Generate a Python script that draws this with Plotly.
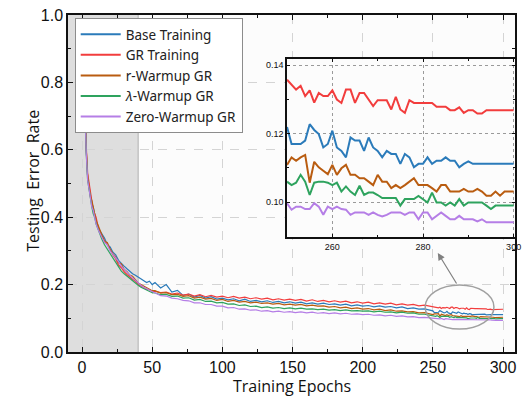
import plotly.graph_objects as go

# ---------------- data ----------------
epochs = list(range(1, 11)) + list(range(12, 51, 2)) + list(range(52, 249, 4)) + list(range(250, 301))

base_training = [
    0.90, 0.70, 0.60, 0.52, 0.49, 0.46, 0.44, 0.43, 0.41, 0.39,
    0.365, 0.352, 0.338, 0.318, 0.312, 0.296, 0.288, 0.272, 0.262, 0.255,
    0.247, 0.240, 0.232, 0.228, 0.222, 0.218, 0.212, 0.206, 0.210, 0.200,
    0.206, 0.190, 0.200, 0.178, 0.183, 0.168, 0.172, 0.163, 0.168, 0.160,
    0.164, 0.157, 0.160, 0.155, 0.158, 0.152, 0.157, 0.150, 0.153, 0.149,
    0.152, 0.147, 0.150, 0.146, 0.149, 0.145, 0.148, 0.143, 0.146, 0.142,
    0.145, 0.141, 0.143, 0.139, 0.142, 0.137, 0.140, 0.136, 0.138, 0.134,
    0.137, 0.133, 0.135, 0.131, 0.134, 0.129, 0.131, 0.127, 0.128, 0.124,
    0.1220, 0.1170, 0.1170, 0.1170, 0.1180, 0.1228, 0.1211, 0.1199, 0.1160, 0.1170,
    0.1209, 0.1160, 0.1150, 0.1131, 0.1189, 0.1180, 0.1180, 0.1150, 0.1189, 0.1160,
    0.1150, 0.1131, 0.1150, 0.1141, 0.1141, 0.1112, 0.1141, 0.1131, 0.1102, 0.1112,
    0.1112, 0.1131, 0.1112, 0.1121, 0.1121, 0.1131, 0.1121, 0.1121, 0.1102, 0.1112,
    0.1119, 0.1112, 0.1112, 0.1112, 0.1112, 0.1112, 0.1112, 0.1112, 0.1112, 0.1112,
    0.1112,
]

gr_training = [
    0.92, 0.72, 0.61, 0.53, 0.50, 0.47, 0.45, 0.42, 0.41, 0.40,
    0.362, 0.345, 0.330, 0.320, 0.302, 0.288, 0.276, 0.258, 0.250, 0.238,
    0.230, 0.222, 0.216, 0.210, 0.200, 0.196, 0.192, 0.186, 0.185, 0.180,
    0.180, 0.176, 0.178, 0.172, 0.175, 0.169, 0.172, 0.166, 0.170, 0.164,
    0.168, 0.163, 0.166, 0.161, 0.165, 0.160, 0.163, 0.158, 0.161, 0.157,
    0.160, 0.155, 0.158, 0.154, 0.157, 0.153, 0.156, 0.151, 0.155, 0.150,
    0.153, 0.149, 0.152, 0.148, 0.151, 0.146, 0.149, 0.145, 0.148, 0.143,
    0.146, 0.142, 0.145, 0.140, 0.143, 0.139, 0.141, 0.137, 0.139, 0.136,
    0.1358, 0.1344, 0.1329, 0.1340, 0.1310, 0.1327, 0.1291, 0.1319, 0.1310, 0.1310,
    0.1327, 0.1300, 0.1290, 0.1329, 0.1329, 0.1290, 0.1319, 0.1319, 0.1300, 0.1281,
    0.1298, 0.1298, 0.1298, 0.1271, 0.1308, 0.1271, 0.1261, 0.1298, 0.1290, 0.1290,
    0.1290, 0.1290, 0.1290, 0.1279, 0.1279, 0.1279, 0.1269, 0.1269, 0.1277, 0.1261,
    0.1269, 0.1269, 0.1259, 0.1259, 0.1269, 0.1269, 0.1269, 0.1269, 0.1269, 0.1269,
    0.1269,
]

r_warmup_gr = [
    0.91, 0.71, 0.60, 0.52, 0.48, 0.46, 0.45, 0.43, 0.42, 0.39,
    0.370, 0.350, 0.328, 0.325, 0.305, 0.292, 0.282, 0.265, 0.262, 0.245,
    0.238, 0.228, 0.225, 0.215, 0.205, 0.200, 0.196, 0.190, 0.186, 0.182,
    0.182, 0.175, 0.176, 0.170, 0.171, 0.165, 0.167, 0.160, 0.163, 0.157,
    0.159, 0.153, 0.156, 0.150, 0.153, 0.148, 0.150, 0.146, 0.148, 0.144,
    0.146, 0.142, 0.144, 0.140, 0.142, 0.139, 0.141, 0.137, 0.139, 0.136,
    0.137, 0.133, 0.135, 0.131, 0.133, 0.129, 0.131, 0.127, 0.129, 0.125,
    0.127, 0.123, 0.125, 0.121, 0.122, 0.119, 0.120, 0.116, 0.117, 0.113,
    0.1109, 0.1131, 0.1121, 0.1131, 0.1138, 0.1057, 0.1118, 0.1102, 0.1092, 0.1082,
    0.1109, 0.1080, 0.1099, 0.1109, 0.1080, 0.1080, 0.1070, 0.1070, 0.1060, 0.1050,
    0.1080, 0.1060, 0.1060, 0.1041, 0.1050, 0.1041, 0.1050, 0.1060, 0.1070, 0.1050,
    0.1050, 0.1050, 0.1041, 0.1031, 0.1050, 0.1050, 0.1031, 0.1031, 0.1031, 0.1039,
    0.1031, 0.1031, 0.1039, 0.1031, 0.1019, 0.1019, 0.1031, 0.1019, 0.1031, 0.1031,
    0.1031,
]

lambda_warmup_gr = [
    0.90, 0.69, 0.59, 0.51, 0.48, 0.45, 0.43, 0.41, 0.40, 0.38,
    0.355, 0.336, 0.318, 0.305, 0.288, 0.276, 0.265, 0.252, 0.240, 0.232,
    0.225, 0.218, 0.210, 0.205, 0.198, 0.192, 0.188, 0.184, 0.180, 0.176,
    0.175, 0.170, 0.171, 0.165, 0.166, 0.160, 0.161, 0.154, 0.156, 0.150,
    0.151, 0.146, 0.147, 0.142, 0.143, 0.138, 0.140, 0.135, 0.136, 0.132,
    0.134, 0.130, 0.132, 0.129, 0.131, 0.128, 0.130, 0.127, 0.128, 0.126,
    0.127, 0.124, 0.126, 0.123, 0.125, 0.122, 0.123, 0.121, 0.122, 0.119,
    0.121, 0.118, 0.119, 0.116, 0.118, 0.115, 0.116, 0.112, 0.112, 0.108,
    0.1060, 0.1050, 0.1057, 0.1080, 0.1060, 0.1021, 0.1057, 0.1060, 0.1060, 0.1057,
    0.1050, 0.1057, 0.1031, 0.1046, 0.1031, 0.1021, 0.1048, 0.1021, 0.1028, 0.1028,
    0.1021, 0.1012, 0.1012, 0.1012, 0.1012, 0.0990, 0.1009, 0.1009, 0.1009, 0.1018,
    0.1009, 0.0999, 0.1028, 0.0999, 0.0999, 0.0990, 0.0999, 0.0990, 0.1009, 0.0990,
    0.0999, 0.0999, 0.0999, 0.0999, 0.0990, 0.0980, 0.0990, 0.0990, 0.0990, 0.0990,
    0.0990,
]

zero_warmup_gr = [
    0.89, 0.69, 0.59, 0.51, 0.48, 0.45, 0.43, 0.42, 0.40, 0.38,
    0.358, 0.340, 0.325, 0.318, 0.300, 0.290, 0.280, 0.268, 0.255, 0.245,
    0.236, 0.228, 0.220, 0.212, 0.204, 0.198, 0.192, 0.188, 0.184, 0.178,
    0.174, 0.167, 0.166, 0.160, 0.158, 0.153, 0.152, 0.146, 0.146, 0.141,
    0.141, 0.136, 0.136, 0.131, 0.132, 0.127, 0.128, 0.124, 0.125, 0.121,
    0.123, 0.119, 0.121, 0.118, 0.120, 0.117, 0.119, 0.116, 0.118, 0.115,
    0.117, 0.114, 0.116, 0.113, 0.115, 0.112, 0.113, 0.111, 0.112, 0.109,
    0.110, 0.107, 0.109, 0.106, 0.107, 0.104, 0.105, 0.102, 0.103, 0.101,
    0.0997, 0.0978, 0.0987, 0.0987, 0.0980, 0.0980, 0.0997, 0.0987, 0.0963, 0.0987,
    0.0980, 0.0987, 0.0980, 0.0978, 0.0963, 0.0970, 0.0970, 0.0970, 0.0963, 0.0970,
    0.0963, 0.0958, 0.0963, 0.0970, 0.0970, 0.0970, 0.0963, 0.0970, 0.0970, 0.0950,
    0.0970, 0.0970, 0.0950, 0.0960, 0.0970, 0.0960, 0.0950, 0.0950, 0.0960, 0.0950,
    0.0950, 0.0950, 0.0944, 0.0950, 0.0941, 0.0941, 0.0941, 0.0941, 0.0941, 0.0941,
    0.0941,
]

series_names = ["Base Training", "GR Training", "r-Warmup GR",
                "<i>λ</i>-Warmup GR", "Zero-Warmup GR"]
series_values = [base_training, gr_training, r_warmup_gr, lambda_warmup_gr, zero_warmup_gr]
series_colors = ["#2b7bba", "#f23d3d", "#b95c10", "#2ea35e", "#b57ee6"]

for s in series_values:
    assert len(s) == len(epochs), len(s)

main_x_ticks = [0, 50, 100, 150, 200, 250, 300]
main_y_ticks = [0.0, 0.2, 0.4, 0.6, 0.8, 1.0]
inset_x_ticks = [260, 280, 300]
inset_y_ticks = [0.10, 0.12, 0.14]
warmup_end = 40
inset_start = 250

# ---------------- figure ----------------
fig = go.Figure()

for name, vals, col in zip(series_names, series_values, series_colors):
    fig.add_trace(go.Scatter(
        x=epochs, y=vals, mode="lines", name=name,
        line=dict(color=col, width=1.2), showlegend=False,
        legendgroup=name, xaxis="x", yaxis="y"))

for name, vals, col in zip(series_names, series_values, series_colors):
    xs = [e for e in epochs if e >= inset_start]
    ys = [v for e, v in zip(epochs, vals) if e >= inset_start]
    fig.add_trace(go.Scatter(
        x=xs, y=ys, mode="lines", name=name,
        line=dict(color=col, width=2), showlegend=True,
        legendgroup=name, xaxis="x2", yaxis="y2"))

# shaded warmup band
fig.add_shape(type="rect", xref="x", yref="y", x0=-10, x1=warmup_end, y0=0, y1=1,
              fillcolor="#dedede", line=dict(width=0), layer="below")
fig.add_shape(type="line", xref="x", yref="y", x0=warmup_end, x1=warmup_end, y0=0, y1=1,
              line=dict(color="#b0b0b0", width=1), layer="below")

# ellipse + arrow
fig.add_shape(type="circle", xref="x", yref="y", x0=244.5, x1=293.5, y0=0.068, y1=0.199,
              line=dict(color="#a0a0a0", width=1.5))
fig.add_annotation(x=253.5, y=0.294, ax=267.5, ay=0.199, xref="x", yref="y",
                   axref="x", ayref="y", text="", showarrow=True,
                   arrowhead=2, arrowsize=1.2, arrowwidth=1.2, arrowcolor="#808080")

# axis titles as annotations
fig.add_annotation(text="Testing  Error  Rate", xref="paper", yref="paper",
                   x=-0.106, y=0.507, textangle=-90, showarrow=False,
                   font=dict(family="Open Sans", size=16, color="#111"))
fig.add_annotation(text="Training Epochs", xref="paper", yref="paper",
                   x=0.5, y=-0.101, showarrow=False, yanchor="middle",
                   font=dict(family="Open Sans", size=16, color="#111"))

axis_common = dict(showline=True, linecolor="#111", linewidth=1.5, mirror="ticks",
                   ticks="inside", ticklen=5, tickcolor="#111", zeroline=False)

fig.update_layout(
    width=527, height=397,
    margin=dict(l=68, r=6, t=15, b=45),
    paper_bgcolor="white", plot_bgcolor="#fcfcfc",
    font=dict(family="Liberation Sans", color="#111"),
    xaxis=dict(range=[-10, 308.5], tickvals=main_x_ticks, showgrid=True,
               gridcolor="#d4d4d4", griddash="dash", gridwidth=1,
               tickfont=dict(size=16),
               minor=dict(ticks="inside", ticklen=3, dtick=25, tick0=0, tickcolor="#111"),
               **axis_common),
    yaxis=dict(range=[0, 1], tickvals=main_y_ticks, ticktext=["0.0", "0.2", "0.4", "0.6", "0.8", "1.0"],
               showgrid=True, gridcolor="#d4d4d4", griddash="dash", gridwidth=1,
               tickfont=dict(size=16),
               minor=dict(ticks="inside", ticklen=3, dtick=0.1, tick0=0, tickcolor="#111"),
               **axis_common),
    xaxis2=dict(domain=[0.49, 1.0], anchor="y2", range=[250, 300.3], tickvals=inset_x_ticks,
                showgrid=True, gridcolor="#9a9a9a", griddash="dot", gridwidth=1,
                tickfont=dict(size=9), ticklen=3,
                minor=dict(ticks="inside", ticklen=2, dtick=10, tick0=0, tickcolor="#111"),
                showline=True, linecolor="#111", linewidth=1.5, mirror="ticks",
                ticks="inside", tickcolor="#111", zeroline=False),
    yaxis2=dict(domain=[0.341, 0.869], anchor="x2", range=[0.0898, 0.1418], tickvals=inset_y_ticks,
                ticktext=["0.10", "0.12", "0.14"],
                showgrid=True, gridcolor="#9a9a9a", griddash="dot", gridwidth=1,
                tickfont=dict(size=9), ticklen=3,
                minor=dict(ticks="inside", ticklen=2, dtick=0.01, tick0=0, tickcolor="#111"),
                showline=True, linecolor="#111", linewidth=1.5, mirror="ticks",
                ticks="inside", tickcolor="#111", zeroline=False),
    legend=dict(x=0.015, y=0.991, xanchor="left", yanchor="top",
                bgcolor="white", bordercolor="#8c8c8c", borderwidth=1,
                font=dict(family="Noto Sans", size=13.5, color="#222"),
                tracegroupgap=0, itemwidth=40),
)

fig.write_html("out.html",
               config={"displayModeBar": False},
               post_script="document.body.style.margin='0';document.body.style.padding='0';")
